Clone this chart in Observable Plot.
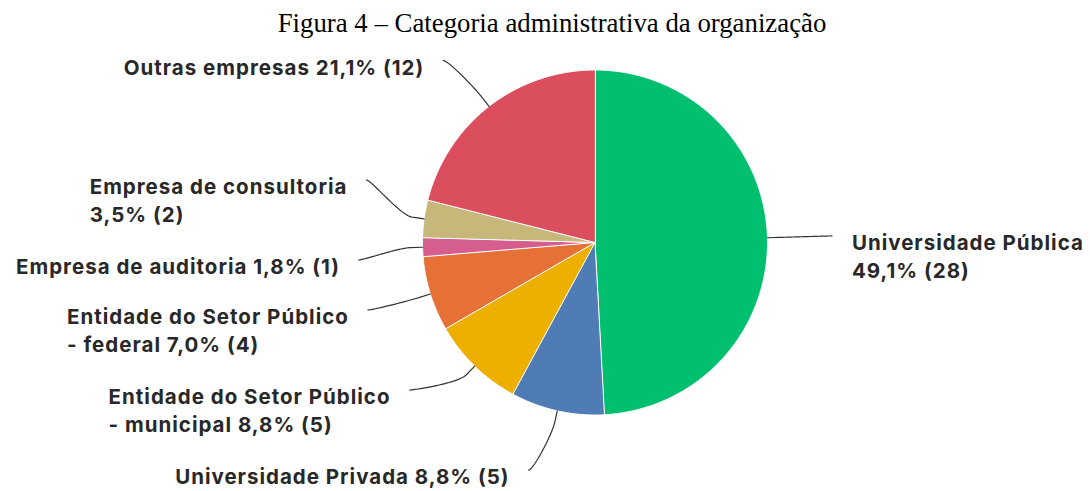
<!DOCTYPE html>
<html><head><meta charset="utf-8">
<script src="https://cdn.jsdelivr.net/npm/d3@7"></script>
<script src="https://cdn.jsdelivr.net/npm/@observablehq/plot@0.6"></script>
<style>
  body { margin: 0; background: white; }
  #title { box-sizing: border-box; width: 1090px; height: 40px; padding-top: 8px; padding-left: 14px;
           text-align: center; font-family: "Liberation Serif", "Times New Roman", serif; font-size: 26.8px;
           line-height: normal; color: #000; white-space: nowrap; }
</style>
</head><body>
<div id="title">Figura 4 – Categoria administrativa da organização</div>
<div id="chart"></div>
<script>
// ---- data ----
const categories = [
  "Universidade Pública",
  "Universidade Privada",
  "Entidade do Setor Público - municipal",
  "Entidade do Setor Público - federal",
  "Empresa de auditoria",
  "Empresa de consultoria",
  "Outras empresas"
];
const counts = [28, 5, 5, 4, 1, 2, 12];
const labels = [
  "Universidade Pública\n49,1% (28)",
  "Universidade Privada 8,8% (5)",
  "Entidade do Setor Público\n- municipal 8,8% (5)",
  "Entidade do Setor Público\n- federal 7,0% (4)",
  "Empresa de auditoria 1,8% (1)",
  "Empresa de consultoria\n3,5% (2)",
  "Outras empresas 21,1% (12)"
];
const colors = ["#00BF6F", "#507CB6", "#EDB000", "#E67137", "#D65E8F", "#C8B77A", "#DB4E5E"];

// ---- layout ----
const W = 1090, H = 451;
const cx = 594.5, cy = 202, r = 172.5;
const R = 237;          // label circle
const brk = 12;         // connector break distance
const lh = 28;          // label line height
const gapPad = 20;
const fontSize = 20.5, fontWeight = 700, fontFamily = "Inter";
const LS = 1.0;         // letter spacing
const textColor = "#282828";

const ctx = document.createElement("canvas").getContext("2d");
ctx.font = `${fontWeight} ${fontSize}px ${fontFamily}`;
const textW = s => ctx.measureText(s).width + LS * (s.length - 1);

const arcs = d3.pie().sort(null).value(v => v)(counts);
const pt = (a, rad) => [cx + rad * Math.sin(a), cy - rad * Math.cos(a)];

// slices
const slicePts = [];
arcs.forEach((a, i) => {
  const cat = categories[i];
  slicePts.push({cat, x: cx, y: cy});
  const n = Math.max(2, Math.ceil((a.endAngle - a.startAngle) / 0.01));
  for (let k = 0; k <= n; k++) {
    const t = a.startAngle + (a.endAngle - a.startAngle) * k / n;
    const [x, y] = pt(t, r);
    slicePts.push({cat, x, y});
  }
});

// label placement (distribute vertically per side)
const items = arcs.map((a, i) => {
  const mid = (a.startAngle + a.endAngle) / 2;
  const lines = labels[i].split("\n");
  return {i, mid, side: mid < Math.PI ? 1 : -1, lines, nat: cy - R * Math.cos(mid)};
});
for (const side of [1, -1]) {
  const g = items.filter(d => d.side === side).sort((a, b) => a.nat - b.nat);
  if (!g.length) continue;
  const gap = d => 30 * d.lines.length + gapPad;
  const minY = 20;
  const last = g[g.length - 1];
  const maxY = H - 14 - 7.5 - (last.lines.length - 1) * lh;
  g.forEach((d, k) => { d.y = k === 0 ? Math.max(d.nat, minY) : Math.max(d.nat, g[k - 1].y + gap(g[k - 1])); });
  for (let k = g.length - 1; k >= 0; k--) {
    const d = g[k];
    d.y = k === g.length - 1 ? Math.min(d.y, maxY) : Math.min(d.y, g[k + 1].y - gap(d));
  }
}
const leaderPts = [], textRows = [];
items.forEach(it => {
  const dy = it.y - cy;
  it.x = cx + it.side * Math.sqrt(Math.max(0, R * R - dy * dy));
  const cat = categories[it.i];
  const T = pt(it.mid, r), B = pt(it.mid, r + brk);
  const P0 = [it.x, it.y], P1 = [it.x - it.side * 5, it.y], P2 = [2 * B[0] - T[0], 2 * B[1] - T[1]], P3 = B;
  const N = 30;
  for (let k = 0; k <= N; k++) {
    const t = k / N, u = 1 - t;
    const x = u*u*u*P0[0] + 3*u*u*t*P1[0] + 3*u*t*t*P2[0] + t*t*t*P3[0];
    const y = u*u*u*P0[1] + 3*u*u*t*P1[1] + 3*u*t*t*P2[1] + t*t*t*P3[1];
    leaderPts.push({cat, x, y});
  }
  leaderPts.push({cat, x: T[0], y: T[1]});
  const maxW = d3.max(it.lines, textW);
  const x0 = it.side > 0 ? it.x + 20 : it.x - 20 - maxW;
  it.lines.forEach((s, k) => textRows.push({text: s, x: x0, y: it.y + 7.5 + k * lh}));
});

const chart = Plot.plot({
  width: W, height: H, margin: 0,
  x: {domain: [0, W], range: [0, W], axis: null},
  y: {domain: [0, H], range: [0, H], axis: null},
  color: {domain: categories, range: colors},
  style: {background: "white", letterSpacing: LS + "px", overflow: "visible"},
  marks: [
    Plot.line(slicePts, {x: "x", y: "y", z: "cat", fill: "cat", stroke: "white", strokeWidth: 1, curve: "linear-closed", strokeLinejoin: "round"}),
    Plot.line(leaderPts, {x: "x", y: "y", z: "cat", stroke: "#333", strokeWidth: 1.2, curve: "linear"}),
    Plot.text(textRows, {x: "x", y: "y", text: "text", textAnchor: "start", lineAnchor: "middle",
      fontSize, fontWeight, fontFamily, fill: textColor})
  ]
});
document.getElementById("chart").appendChild(chart);
</script></body></html>
